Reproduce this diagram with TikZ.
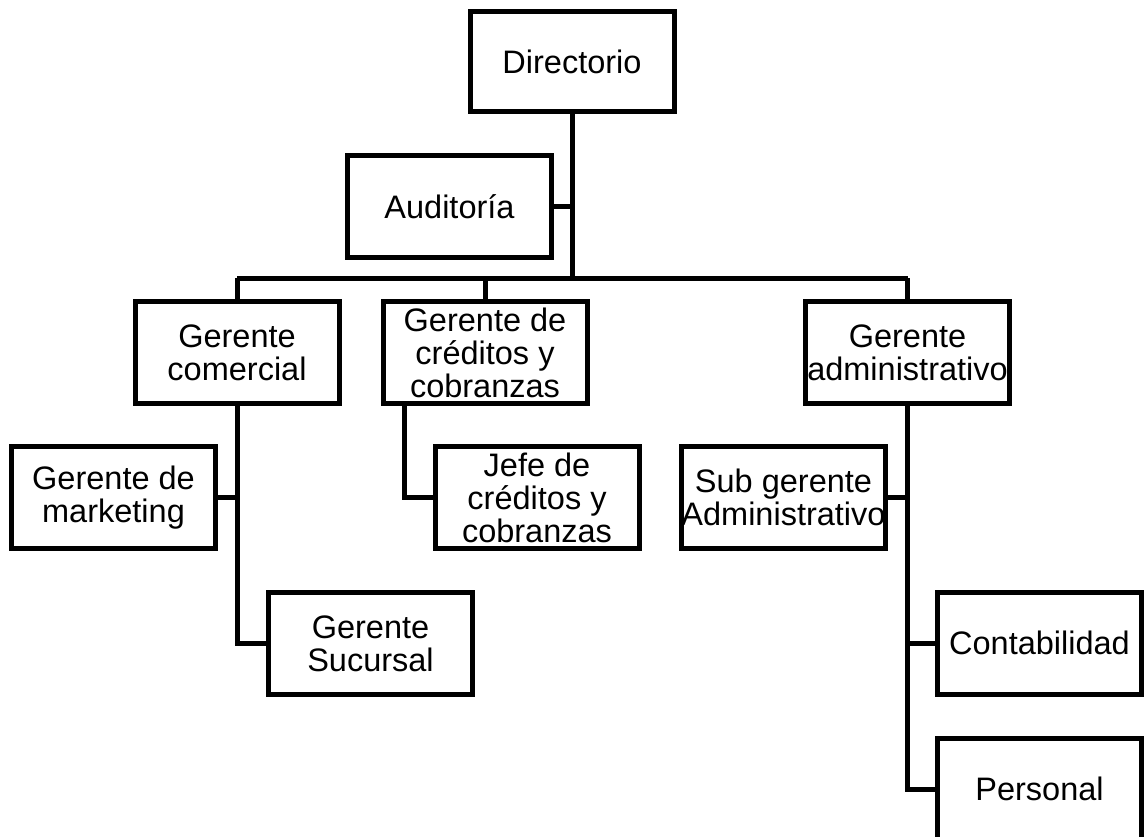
\documentclass[tikz,border=0pt]{standalone}
\usepackage{fontspec}
\setmainfont{Liberation Sans}
\begin{document}
\begin{tikzpicture}[x=1pt,y=-1pt,
  box/.style={draw, line width=5pt, rectangle, minimum width=204pt, minimum height=102pt,
    inner sep=0pt, align=center, font=\fontsize{32.5}{33}\selectfont},
  conn/.style={line width=5pt}]
\useasboundingbox (0,0) rectangle (1145,836);
\clip (0,0) rectangle (1145,836);
\node[box, minimum height=100pt] (dir) at (572,61.5) {Directorio};
\node[box] (aud) at (449.5,206.5) {Auditoría};
\node[box] (com) at (237,352.5) {Gerente\\comercial};
\node[box] (cred) at (485,352.5) {Gerente de\\créditos y\\cobranzas};
\node[box] (adm) at (907.5,352.5) {Gerente\\administrativo};
\node[box] (mkt) at (113.5,497.5) {Gerente de\\marketing};
\node[box] (jefe) at (537,497.5) {Jefe de\\créditos y\\cobranzas};
\node[box] (sub) at (783.5,497.5) {Sub gerente\\Administrativo};
\node[box] (suc) at (370.5,643.5) {Gerente\\Sucursal};
\node[box] (cont) at (1039.5,643) {Contabilidad};
\node[box] (pers) at (1039.5,789) {Personal};
\coordinate (bus) at (572,278);
\coordinate (busL) at (237,278);
\coordinate (busR) at (907.5,278);
\coordinate (credx) at (404,0);
\draw[conn] (dir.south) -- (bus);
\draw[conn] (aud.east) -- (aud.east -| bus);
\draw[conn] (busL) -- (busR);
\draw[conn] (busL) -- (com.north);
\draw[conn] (cred.north |- bus) -- (cred.north);
\draw[conn] (busR) -- (adm.north);
\draw[conn] (com.south) |- (suc.west);
\draw[conn] (mkt.east) -- (mkt.east -| com.south);
\draw[conn] (cred.south -| credx) |- (jefe.west);
\draw[conn] (adm.south) |- (pers.west);
\draw[conn] (cont.west) -- (cont.west -| adm.south);
\draw[conn] (sub.east) -- (sub.east -| adm.south);
\end{tikzpicture}
\end{document}
